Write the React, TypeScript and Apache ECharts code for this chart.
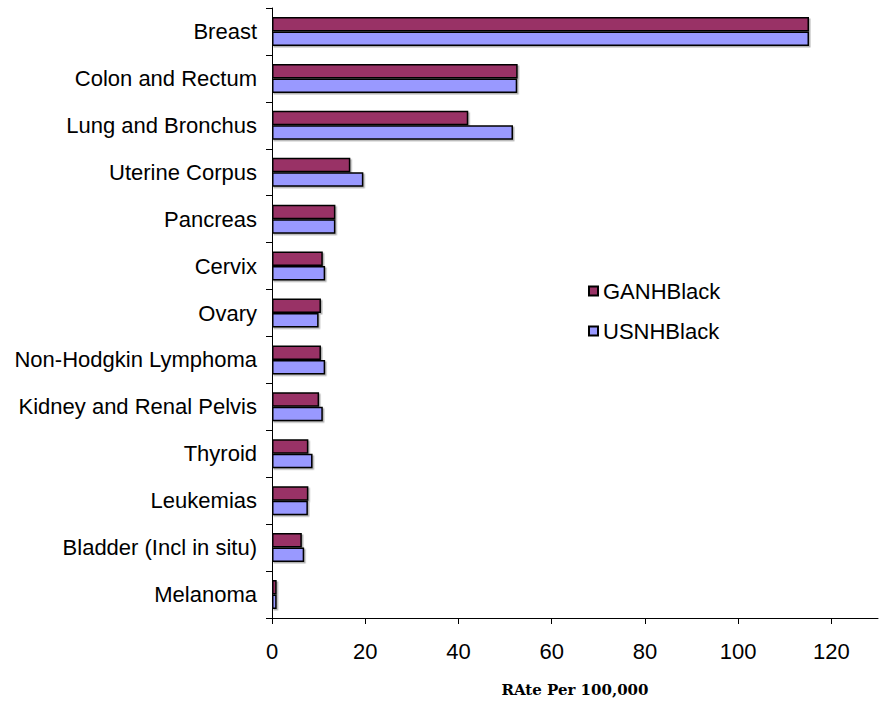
import React, { useEffect, useRef } from "react";
import * as echarts from "echarts";

const categories = [
  "Breast",
  "Colon and Rectum",
  "Lung and Bronchus",
  "Uterine Corpus",
  "Pancreas",
  "Cervix",
  "Ovary",
  "Non-Hodgkin Lymphoma",
  "Kidney and Renal Pelvis",
  "Thyroid",
  "Leukemias",
  "Bladder (Incl in situ)",
  "Melanoma",
];

const gaNHBlack = [115.2, 52.7, 42.1, 16.8, 13.6, 10.9, 10.5, 10.5, 10.1, 7.8, 7.8, 6.4, 1.0];
const usNHBlack = [115.2, 52.6, 51.7, 19.6, 13.6, 11.4, 10.0, 11.4, 10.9, 8.7, 7.7, 6.9, 1.0];

const seriesNames = ["GANHBlack", "USNHBlack"];
const axisTitle = "RAte Per 100,000";

export default function App() {
  const ref = useRef<HTMLDivElement>(null);

  useEffect(() => {
    if (!ref.current) return;
    const chart = echarts.init(ref.current, undefined, { renderer: "svg" });
    const font = "Liberation Sans, Arial, sans-serif";
    chart.setOption({
      animation: false,
      backgroundColor: "#ffffff",
      grid: { left: 272, top: 8, width: 606, height: 610, containLabel: false },
      legend: {
        orient: "vertical",
        left: 583,
        top: 275,
        itemWidth: 9,
        itemHeight: 9,
        itemGap: 18,
        icon: "rect",
        textStyle: { fontFamily: font, fontSize: 22, color: "#000" },
        data: seriesNames,
      },
      xAxis: {
        type: "value",
        min: 0,
        max: 130,
        interval: 20,
        name: axisTitle,
        nameLocation: "middle",
        nameGap: 64,
        nameTextStyle: {
          fontFamily: "DejaVu Serif, serif",
          fontWeight: "bold",
          fontSize: 15,
          color: "#000",
        },
        splitLine: { show: false },
        axisLine: { show: true, lineStyle: { color: "#000", width: 1 } },
        axisTick: { show: true, length: 6, lineStyle: { color: "#000" } },
        axisLabel: {
          fontFamily: font,
          fontSize: 22,
          color: "#000",
          margin: 22,
          showMaxLabel: false,
        },
      },
      yAxis: {
        type: "category",
        inverse: true,
        data: categories,
        axisLine: { show: true, lineStyle: { color: "#000", width: 1 } },
        axisTick: { show: true, length: 6, lineStyle: { color: "#000" } },
        axisLabel: { fontFamily: font, fontSize: 22, color: "#000", margin: 15 },
      },
      series: [
        {
          name: seriesNames[0],
          type: "bar",
          data: gaNHBlack,
          barWidth: 14.5,
          barGap: "0%",
          itemStyle: {
            color: "#993366",
            borderColor: "#000",
            borderWidth: 1.5,
            shadowColor: "rgba(0,0,0,0.3)",
            shadowOffsetX: 1.5,
            shadowOffsetY: 1.5,
          },
        },
        {
          name: seriesNames[1],
          type: "bar",
          data: usNHBlack,
          barWidth: 14.5,
          barGap: "0%",
          itemStyle: {
            color: "#9999FF",
            borderColor: "#000",
            borderWidth: 1.5,
            shadowColor: "rgba(0,0,0,0.3)",
            shadowOffsetX: 1.5,
            shadowOffsetY: 1.5,
          },
        },
      ],
    });
    return () => chart.dispose();
  }, []);

  return (
    <div
      ref={ref}
      style={{ position: "fixed", left: 0, top: 0, width: 879, height: 702, background: "#fff" }}
    />
  );
}
